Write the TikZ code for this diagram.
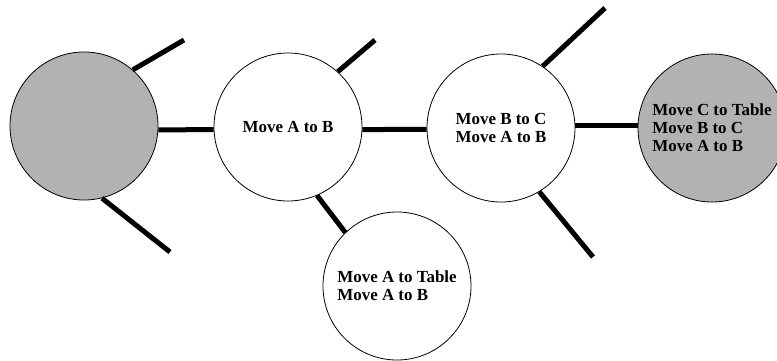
\documentclass[tikz,border=0pt]{standalone}
\usepackage{fontspec}
\setmainfont{Liberation Serif}
\begin{document}
\begin{tikzpicture}[x=1bp, y=-1bp,
	plan/.style={circle, draw, line width=0.8bp, fill=white, minimum size=148bp, inner sep=0pt, align=left, font=\bfseries\fontsize{17}{18}\selectfont},
	goal/.style={plan, fill=black!30},
	link/.style={line width=5bp}]
			\useasboundingbox (0,0) rectangle (777,360);
			
			\node (s0) [goal] at (84,126) {}; 
			\node (s1) [plan] at (288,127) {Move A to B}; 
			\node (s2) [plan] at (501,128) {Move B to C\\Move A to B}; 
			\node (s3) [goal] at (712,128) {Move C to Table\\Move B to C\\Move A to B}; 
			\node (s4) [plan] at (397,286) {Move A to Table\\Move A to B}; 
			
			\coordinate (e0a) at (184,40);
			\coordinate (e0b) at (170,252);
			\coordinate (e1a) at (375,40);
			\coordinate (e2a) at (605,8);
			\coordinate (e2b) at (593,257);
			
			\draw[link] (s0.-3) -- (s1.182);
			\draw[link] (s1.-2) -- (s2.181);
			\draw[link] (s2.2) -- (s3.178);
			\draw[link] (s1.-67) -- (s4.134);
			\draw[link] (s0.49) -- (e0a);
			\draw[link] (s0.-76) -- (e0b);
			\draw[link] (s1.48) -- (e1a);
			\draw[link] (s2.56) -- (e2a);
			\draw[link] (s2.-59) -- (e2b);
		\end{tikzpicture}
\end{document}
